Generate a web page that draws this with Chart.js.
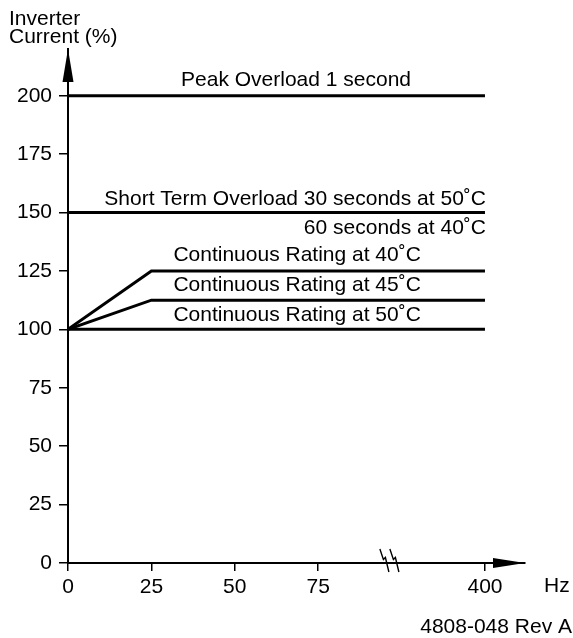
<!DOCTYPE html>
<html>
<head>
<meta charset="utf-8">
<script src="https://cdn.jsdelivr.net/npm/chart.js@4"></script>
<style>
  html, body { margin: 0; padding: 0; background: #fff; }
  #wrap { width: 573px; height: 638px; position: relative; }
</style>
</head>
<body>
<div id="wrap"><canvas id="grafica"></canvas></div>
<script>
// frequency points (Hz) where the rating lines change
const frecuencias = [0, 25, 400]
const xTicksHz = [0, 25, 50, 75, 400]
const yTicks = [0, 25, 50, 75, 100, 125, 150, 175, 200]

const peakOverload = [200, 200, 200]
const shortTerm = [150, 150, 150]
const cont40 = [100, 125, 125]
const cont45 = [100, 112.5, 112.5]
const cont50 = [100, 100, 100]

const etiquetas = {
    peak: "Peak Overload 1 second",
    short1: "Short Term Overload 30 seconds at 50˚C",
    short2: "60 seconds at 40˚C",
    c40: "Continuous Rating at 40˚C",
    c45: "Continuous Rating at 45˚C",
    c50: "Continuous Rating at 50˚C"
}

// broken axis: everything above 75 Hz is drawn two steps after 75
function hzPos(hz) {
    return hz > 75 ? 125 : hz
}

function serie(valores) {
    return valores.map((v, i) => ({ x: hzPos(frecuencias[i]), y: v }))
}

const FONT = "Liberation Sans, Arial, sans-serif"
Chart.defaults.font.family = FONT
Chart.defaults.font.size = 21
Chart.defaults.color = "#000"

const dibujos = {
    id: "dibujos",
    afterDraw(chart) {
        const ctx = chart.ctx
        const xs = chart.scales.x
        const ys = chart.scales.y
        const x0 = xs.getPixelForValue(0)
        const y0 = ys.getPixelForValue(0)
        const area = chart.chartArea

        ctx.save()
        ctx.fillStyle = "#000"
        ctx.strokeStyle = "#000"

        // axis arrows
        ctx.beginPath()
        ctx.moveTo(x0, area.top)
        ctx.lineTo(x0 - 5.5, area.top + 33)
        ctx.lineTo(x0 + 5.5, area.top + 33)
        ctx.closePath()
        ctx.fill()

        ctx.beginPath()
        ctx.moveTo(area.right, y0)
        ctx.lineTo(area.right - 32, y0 - 5)
        ctx.lineTo(area.right - 32, y0 + 5)
        ctx.closePath()
        ctx.fill()

        // axis break marks
        ctx.lineWidth = 1.4
        const bx = xs.getPixelForValue(93.5)
        for (const dx of [0, 10]) {
            ctx.beginPath()
            ctx.moveTo(bx + dx, y0 - 14)
            ctx.lineTo(bx + dx + 3.5, y0 - 3.5)
            ctx.lineTo(bx + dx + 5.5, y0 - 5.5)
            ctx.lineTo(bx + dx + 9, y0 + 9)
            ctx.stroke()
        }

        // line labels
        ctx.font = "21px " + FONT
        ctx.textBaseline = "alphabetic"
        const x400 = xs.getPixelForValue(hzPos(400))
        const x25 = xs.getPixelForValue(hzPos(25))

        ctx.textAlign = "center"
        ctx.fillText(etiquetas.peak, 296, ys.getPixelForValue(200) - 9.5)

        ctx.textAlign = "right"
        ctx.fillText(etiquetas.short1, x400 + 1, ys.getPixelForValue(150) - 8)
        ctx.fillText(etiquetas.short2, x400 + 1, ys.getPixelForValue(150) + 21.5)

        ctx.textAlign = "left"
        ctx.fillText(etiquetas.c40, x25 + 22, ys.getPixelForValue(125) - 9.5)
        ctx.fillText(etiquetas.c45, x25 + 22, ys.getPixelForValue(112.5) - 9)
        ctx.fillText(etiquetas.c50, x25 + 22, ys.getPixelForValue(100) - 8.5)

        // axis titles and note
        ctx.fillText("Inverter", 9, 25)
        ctx.fillText("Current (%)", 9, 43)
        ctx.fillText("Hz", 544, 592)
        ctx.textAlign = "right"
        ctx.fillText("4808-048 Rev A", 572, 633)

        ctx.restore()
    }
}

function dataset(valores) {
    return {
        data: serie(valores),
        borderColor: "#000",
        borderWidth: 3,
        pointRadius: 0,
        tension: 0,
        borderJoinStyle: "miter",
        fill: false
    }
}

const chart = new Chart(document.getElementById("grafica"), {
    type: "line",
    data: {
        datasets: [
            dataset(peakOverload),
            dataset(shortTerm),
            dataset(cont40),
            dataset(cont45),
            dataset(cont50)
        ]
    },
    options: {
        responsive: true,
        maintainAspectRatio: false,
        animation: false,
        layout: { padding: { top: 49, right: 48, left: 0, bottom: 0 } },
        plugins: {
            legend: { display: false },
            tooltip: { enabled: false }
        },
        scales: {
            x: {
                type: "linear",
                min: 0,
                max: 137,
                afterBuildTicks(scale) {
                    scale.ticks = xTicksHz.map(h => ({ value: hzPos(h) }))
                },
                afterFit(scale) {
                    scale.height = 75
                },
                ticks: {
                    padding: 4,
                    maxRotation: 0,
                    callback: (v, i) => String(xTicksHz[i])
                },
                grid: {
                    drawOnChartArea: false,
                    tickLength: 8,
                    color: "#000",
                    lineWidth: 1.5
                },
                border: { display: true, color: "#000", width: 2 }
            },
            y: {
                type: "linear",
                min: 0,
                max: 220,
                afterBuildTicks(scale) {
                    scale.ticks = yTicks.map(v => ({ value: v }))
                },
                afterFit(scale) {
                    scale.width = 68
                },
                ticks: {
                    padding: 7,
                    callback: v => String(v)
                },
                grid: {
                    drawOnChartArea: false,
                    tickLength: 9,
                    color: "#000",
                    lineWidth: 1.5
                },
                border: { display: true, color: "#000", width: 2 }
            }
        }
    },
    plugins: [dibujos]
})
</script>
</body>
</html>
